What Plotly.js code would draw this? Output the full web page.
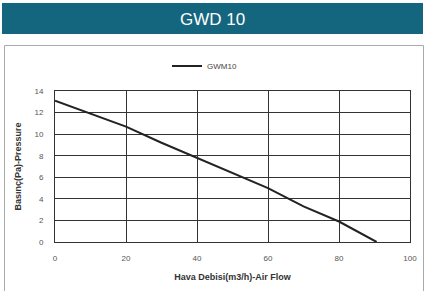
<!DOCTYPE html>
<html>
<head>
<meta charset="utf-8">
<script src="https://cdn.plot.ly/plotly-3.0.1.min.js"></script>
<style>html,body{margin:0;padding:0;background:#fff;}#chart{width:425px;height:291px;}</style>
</head>
<body>
<div id="chart"></div>
<script>
const airFlow = [0, 10, 20, 30, 40, 50, 60, 70, 80, 90.6];
const pressure = [13.1, 11.9, 10.7, 9.2, 7.8, 6.35, 5.0, 3.3, 1.9, 0];
const seriesName = 'GWM10';
const chartTitle = 'GWD 10';
const xTickVals = [0, 20, 40, 60, 80, 100];
const yTickVals = [0, 2, 4, 6, 8, 10, 12, 14];

const W = 425, H = 291, L = 55, R = 15, T = 91, B = 49;
const pw = W - L - R, ph = H - T - B;
const px = v => (v - L) / pw;
const py = v => (H - B - v) / ph;

const trace = {
  x: airFlow, y: pressure, type: 'scatter', mode: 'lines', name: seriesName,
  line: {color: '#222', width: 2}
};

const layout = {
  width: W, height: H,
  margin: {l: L, r: R, t: T, b: B, pad: 0},
  paper_bgcolor: '#fff', plot_bgcolor: '#fff',
  font: {family: 'Liberation Sans, Arial, sans-serif', color: '#555', size: 8},
  showlegend: true,
  legend: {
    orientation: 'h', x: px(167), xanchor: 'left', y: py(66), yanchor: 'middle',
    font: {size: 8, color: '#444'}, itemwidth: 30, bgcolor: 'rgba(0,0,0,0)'
  },
  xaxis: {
    range: [0, 100], tickvals: xTickVals, showgrid: true, gridcolor: '#333', gridwidth: 1,
    zeroline: false, showline: true, linecolor: '#333', linewidth: 1, mirror: true,
    ticks: 'outside', ticklen: 8, tickcolor: 'rgba(0,0,0,0)',
    tickfont: {size: 8, color: '#555'},
    title: {text: 'Hava Debisi(m3/h)-Air Flow', font: {size: 9, color: '#333', family: 'Liberation Sans, Arial, sans-serif', weight: 'bold'}, standoff: 12}
  },
  yaxis: {
    range: [0, 14], tickvals: yTickVals, showgrid: true, gridcolor: '#333', gridwidth: 1,
    zeroline: false, showline: true, linecolor: '#333', linewidth: 1, mirror: true,
    ticks: 'outside', ticklen: 9, tickcolor: 'rgba(0,0,0,0)',
    tickfont: {size: 8, color: '#555'},
    title: {text: 'Basınç(Pa)-Pressure', font: {size: 9, color: '#333', family: 'Liberation Sans, Arial, sans-serif', weight: 'bold'}, standoff: 11}
  },
  shapes: [
    {type: 'rect', xref: 'paper', yref: 'paper', x0: px(2), x1: px(423), y0: py(3), y1: py(34),
     fillcolor: '#14667f', line: {width: 0}, layer: 'below'},
    {type: 'rect', xref: 'paper', yref: 'paper', x0: px(4.5), x1: px(423.5), y0: py(45.5), y1: py(295),
     fillcolor: 'rgba(0,0,0,0)', line: {color: '#aaa', width: 1}, layer: 'below'}
  ],
  annotations: [
    {text: chartTitle, xref: 'paper', yref: 'paper', x: px(212), y: py(19), xanchor: 'center', yanchor: 'middle',
     showarrow: false, font: {size: 17, color: '#fff', family: 'Liberation Sans, Arial, sans-serif'}}
  ]
};

Plotly.newPlot('chart', [trace], layout, {displayModeBar: false, staticPlot: true});
</script>
</body>
</html>
